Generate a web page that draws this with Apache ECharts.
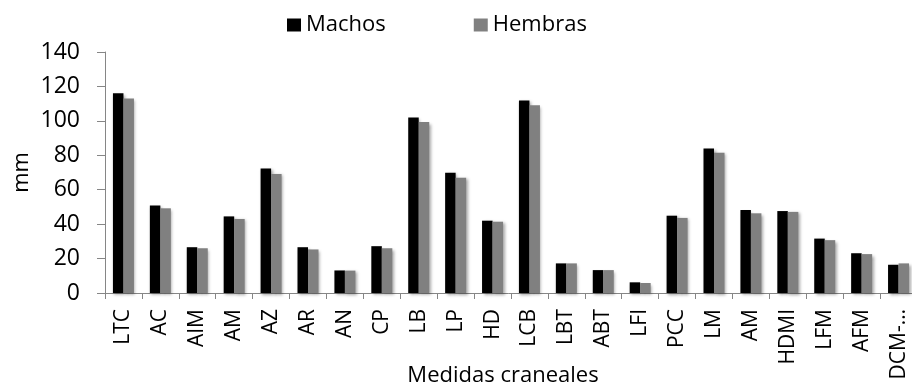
<!DOCTYPE html>
<html>
<head>
<meta charset="utf-8">
<script src="https://cdn.jsdelivr.net/npm/echarts@6/dist/echarts.min.js"></script>
<style>
  html, body { margin: 0; padding: 0; background: #fff; }
  #chart { width: 912px; height: 389px; }
</style>
</head>
<body>
<div id="chart"></div>
<script>
// Cranial measurements (mm), males vs females
const categories = ['LTC', 'AC', 'AIM', 'AM', 'AZ', 'AR', 'AN', 'CP', 'LB', 'LP', 'HD',
  'LCB', 'LBT', 'ABT', 'LFI', 'PCC', 'LM', 'AM', 'HDMI', 'LFM', 'AFM', 'DCM-…'];
const machos = [116.1, 50.9, 26.6, 44.5, 72.3, 26.6, 13.1, 27.2, 102.0, 69.8, 42.0,
  111.8, 17.2, 13.3, 6.2, 44.9, 84.0, 48.2, 47.6, 31.6, 23.1, 16.4];
const hembras = [113.0, 49.2, 26.0, 43.0, 69.2, 25.3, 13.0, 26.0, 99.3, 66.9, 41.4,
  109.1, 17.2, 13.3, 5.8, 43.6, 81.5, 46.3, 47.1, 30.7, 22.6, 17.2];
const yTicks = { min: 0, max: 140, step: 20 };

const FONT = '"Open Sans", "Noto Sans", sans-serif';
const axisGray = '#868686';

const chart = echarts.init(document.getElementById('chart'), null, { renderer: 'canvas' });

const barShadow = {
  shadowColor: 'rgba(0,0,0,0.35)',
  shadowBlur: 3,
  shadowOffsetX: 1.5,
  shadowOffsetY: 1.5
};

chart.setOption({
  animation: false,
  backgroundColor: '#ffffff',
  textStyle: { fontFamily: FONT },
  legend: {
    top: 9,
    left: 282,
    itemWidth: 14,
    itemHeight: 13,
    itemGap: 88,
    icon: 'rect',
    textStyle: { fontFamily: FONT, fontSize: 22, color: '#000' },
    data: ['Machos', 'Hembras']
  },
  grid: {
    left: 105,
    right: -5,
    top: 52,
    bottom: 96,
    containLabel: false,
    outerBoundsMode: 'none'
  },
  xAxis: {
    type: 'category',
    data: categories,
    name: 'Medidas craneales',
    nameLocation: 'middle',
    nameGap: 72,
    nameMoveOverlap: false,
    nameTextStyle: { fontFamily: FONT, fontSize: 22, color: '#000', padding: [0, 16, 0, 0] },
    axisLine: { lineStyle: { color: axisGray, width: 1 } },
    axisTick: { show: true, length: 6, alignWithLabel: false, lineStyle: { color: axisGray } },
    axisLabel: {
      rotate: 90,
      interval: 0,
      margin: 16,
      fontFamily: FONT,
      fontSize: 21,
      color: '#000'
    },
    splitLine: { show: false }
  },
  yAxis: {
    type: 'value',
    min: yTicks.min,
    max: yTicks.max,
    interval: yTicks.step,
    name: 'mm',
    nameLocation: 'middle',
    nameGap: 72,
    nameRotate: 90,
    nameMoveOverlap: false,
    nameTextStyle: { fontFamily: FONT, fontSize: 22, color: '#000' },
    axisLine: { show: true, lineStyle: { color: axisGray, width: 1 } },
    axisTick: { show: true, length: 8, inside: false, lineStyle: { color: axisGray } },
    axisLabel: { margin: 25, fontFamily: FONT, fontSize: 23, color: '#000' },
    splitLine: { show: false }
  },
  series: [
    {
      name: 'Machos',
      type: 'bar',
      data: machos,
      barWidth: 10.5,
      barGap: '0%',
      itemStyle: Object.assign({ color: '#000000' }, barShadow)
    },
    {
      name: 'Hembras',
      type: 'bar',
      data: hembras,
      barWidth: 10.5,
      barGap: '0%',
      itemStyle: Object.assign({ color: '#808080' }, barShadow)
    }
  ]
});
</script>
</body>
</html>
